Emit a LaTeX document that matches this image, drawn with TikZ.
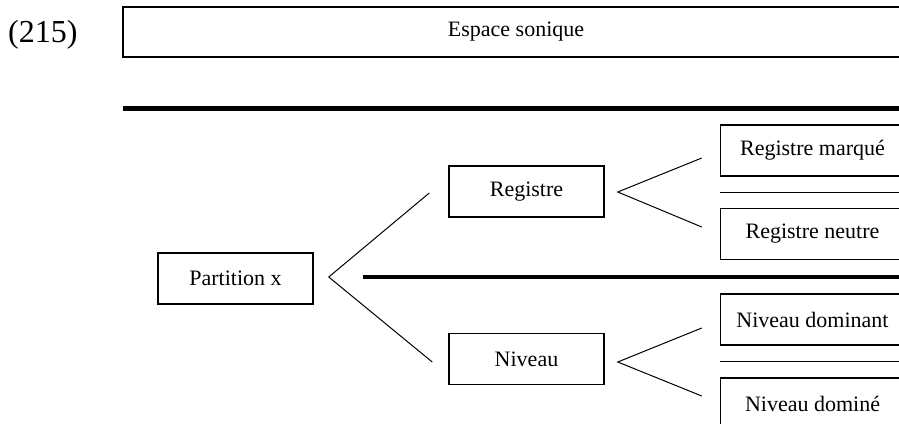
\documentclass[tikz,border=0pt]{standalone}
\usepackage{fontspec}
\setmainfont{Liberation Serif}
\usetikzlibrary{calc}

\tikzset{
  box/.style={draw, rectangle, line width=1.5pt, minimum height=51pt, inner sep=0pt,
    font=\fontsize{22}{26}\selectfont},
  leftbox/.style={box, minimum width=155pt},
  rightbox/.style={box, minimum width=184pt},
  fork/.style={line width=1pt},
  sep/.style={line width=1.5pt},
}

\begin{document}
\begin{tikzpicture}[x=1pt, y=-1pt]
    \clip (0,0) rectangle (899,423);

    % Example number and top box
    \node[anchor=base west, inner sep=0pt, font=\fontsize{32}{38}\selectfont] (num) at (8,42) {(215)};
    \node[box, minimum width=786pt, minimum height=50pt] (esp) at (516,32) {Espace sonique};
    \draw[line width=4.7pt] (123,108.5) -- (920,108.5);

    % Partition and its two branches
    \node[leftbox] (part) at (235.5,278.5) {Partition x};
    \node[leftbox] (reg) at (526.5,191.5) {Registre};
    \node[leftbox] (niv) at (526.5,359) {Niveau};
    \draw[line width=3.3pt] (363,277) -- (920,277);

    % Right column
    \node[rightbox] (rm) at (812.5,150.5) {Registre marqué};
    \node[rightbox] (rn) at (812.5,234) {Registre neutre};
    \node[rightbox] (nd) at (812.5,319.5) {Niveau dominant};
    \node[rightbox] (ne) at (812.5,403.5) {Niveau dominé};

    \draw[sep] ($(rm.south west)!0.5!(rn.north west)$) -- ++(200,0);
    \draw[sep] ($(nd.south west)!0.5!(ne.north west)$) -- ++(200,0);

    % Forks
    \coordinate (f1) at ($(part.east)+(15,-1.5)$);
    \draw[fork] ($(reg.west)+(-19,1.5)$) -- (f1) -- ($(niv.west)+(-16,3)$);

    \coordinate (f2) at ($(reg.east)+(13,0.5)$);
    \draw[fork] ($(rm.west)+(-18,7.5)$) -- (f2) -- ($(rn.west)+(-18,-7)$);

    \coordinate (f3) at ($(niv.east)+(13,3)$);
    \draw[fork] ($(nd.west)+(-18,8.5)$) -- (f3) -- ($(ne.west)+(-18,-7.5)$);
\end{tikzpicture}
\end{document}
